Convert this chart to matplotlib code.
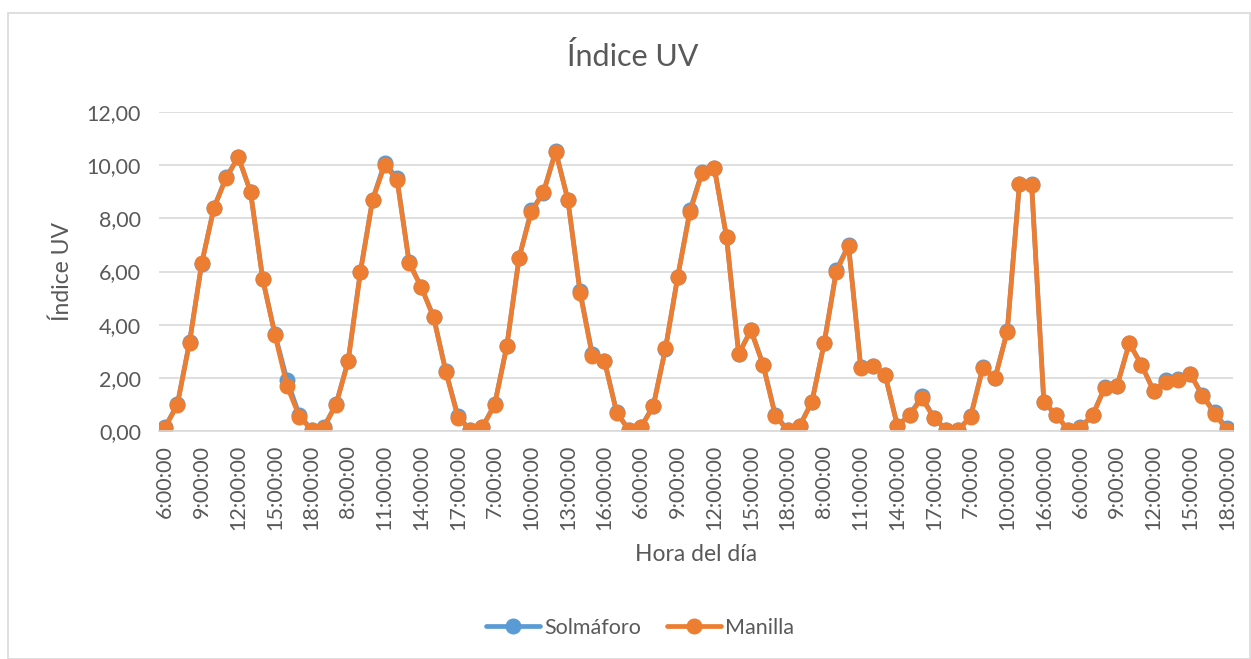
"""
Índice UV: Solmáforo vs Manilla
"""

import matplotlib as mpl
import matplotlib.pyplot as plt
from matplotlib.patches import Rectangle

mpl.use("Agg")

# Hour labels for each reading (7 measurement days)
horas = (
    [f"{h}:00:00" for h in range(6, 19)]
    + [f"{h}:00:00" for h in range(6, 19)]
    + [f"{h}:00:00" for h in range(6, 19)]
    + [f"{h}:00:00" for h in range(6, 19)]
    + [f"{h}:00:00" for h in range(6, 19)]
    + ["6:00:00", "7:00:00", "8:00:00", "9:00:00", "10:00:00",
       "11:00:00", "15:00:00", "16:00:00", "17:00:00", "18:00:00"]
    + [f"{h}:00:00" for h in range(6, 19)]
)

manilla = [
    0.13, 0.98, 3.32, 6.31, 8.39, 9.51, 10.31, 9.00, 5.71, 3.61, 1.69, 0.54, 0.04,
    0.13, 0.98, 2.62, 5.97, 8.70, 10.00, 9.46, 6.31, 5.40, 4.27, 2.23, 0.50, 0.04,
    0.15, 0.98, 3.20, 6.52, 8.22, 9.00, 10.50, 8.70, 5.21, 2.82, 2.63, 0.69, 0.03,
    0.15, 0.93, 3.11, 5.80, 8.22, 9.72, 9.91, 7.30, 2.89, 3.79, 2.48, 0.56, 0.03,
    0.19, 1.10, 3.30, 6.00, 6.96, 2.38, 2.45, 2.11, 0.19, 0.60, 1.23, 0.50, 0.04,
    0.04, 0.53, 2.36, 1.98, 3.73, 9.28, 9.25, 1.10, 0.60, 0.04,
    0.13, 0.59, 1.63, 1.69, 3.30, 2.48, 1.51, 1.86, 1.93, 2.13, 1.32, 0.65, 0.03,
]

solmaforo = [
    0.15, 1.00, 3.35, 6.30, 8.40, 9.55, 10.30, 9.00, 5.70, 3.65, 1.90, 0.60, 0.05,
    0.15, 1.00, 2.65, 6.00, 8.70, 10.10, 9.50, 6.35, 5.40, 4.30, 2.25, 0.55, 0.05,
    0.15, 1.00, 3.20, 6.50, 8.30, 8.95, 10.55, 8.70, 5.25, 2.90, 2.65, 0.70, 0.05,
    0.15, 0.95, 3.10, 5.80, 8.30, 9.75, 9.90, 7.30, 2.90, 3.80, 2.50, 0.60, 0.05,
    0.20, 1.10, 3.30, 6.05, 7.00, 2.40, 2.45, 2.10, 0.20, 0.60, 1.30, 0.50, 0.05,
    0.05, 0.55, 2.40, 2.00, 3.75, 9.30, 9.30, 1.10, 0.60, 0.05,
    0.15, 0.60, 1.65, 1.70, 3.30, 2.50, 1.50, 1.90, 1.95, 2.15, 1.35, 0.70, 0.10,
]

color_blue = "#5B9BD5"
color_orange = "#ED7D31"
color_text = "#595959"
color_grid = "#D9D9D9"

plt.rcParams["font.family"] = ["Lato", "DejaVu Sans"]

fig = plt.figure(figsize=(12.51, 6.59), dpi=100)
ax = fig.add_axes([159 / 1251, 228 / 659, 1074 / 1251, 319 / 659])

x = list(range(len(manilla)))
ax.plot(x, solmaforo, color=color_blue, linewidth=3.4, marker="o", markersize=10.5,
        label="Solmáforo", solid_capstyle="round")
ax.plot(x, manilla, color=color_orange, linewidth=3.4, marker="o", markersize=10.5,
        label="Manilla", solid_capstyle="round")

ax.set_xlim(-0.5, len(x) - 0.5)
ax.set_ylim(0, 12)
ax.set_yticks(range(0, 13, 2))
ax.set_yticklabels([f"{v},00" for v in range(0, 13, 2)], fontsize=15.5, color=color_text)
ax.set_xticks(x[::3])
ax.set_xticklabels(horas[::3], rotation=90, fontsize=15.5, color=color_text)
ax.tick_params(axis="y", length=0, pad=13)
ax.tick_params(axis="x", length=0, pad=10)

ax.grid(axis="y", color=color_grid, linewidth=1.2)
ax.set_axisbelow(True)
for s in ["top", "right", "left"]:
    ax.spines[s].set_visible(False)
ax.spines["bottom"].set_color(color_grid)
ax.spines["bottom"].set_linewidth(1.2)

ax.set_ylabel("Índice UV", fontsize=16.5, color=color_text, labelpad=10)
ax.set_xlabel("Hora del día", fontsize=16.5, color=color_text, labelpad=10)
fig.text(633 / 1251, 1 - 57 / 659, "Índice UV", ha="center", va="center",
         fontsize=22, color=color_text)

fig.legend(loc="center", bbox_to_anchor=(640 / 1251, 1 - 628 / 659), ncol=2,
           frameon=False, fontsize=15.5, labelcolor=color_text, handlelength=2.5,
           columnspacing=1.2, handletextpad=0.2)

# chart area border
fig.patches.append(Rectangle((8 / 1251, 0), 1 - 8 / 1251 - 1 / 1251, 1 - 13 / 659,
                             transform=fig.transFigure, fill=False,
                             edgecolor=color_grid, linewidth=1.2))

fig.savefig("out.png", dpi=100, facecolor="white")
